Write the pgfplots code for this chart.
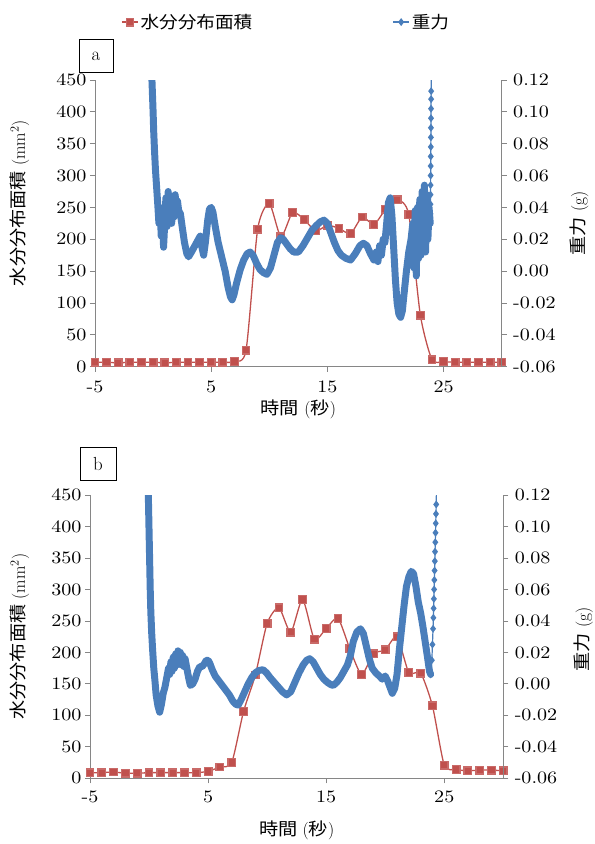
\documentclass[border=0pt]{standalone}
\usepackage{fontspec}
\usepackage{pgfplots}
\pgfplotsset{compat=1.18}
\newfontfamily\cjk[FakeStretch=1.1]{Noto Sans CJK JP}
\newfontfamily\numfont[FakeStretch=1.15, Extension=.otf, UprightFont=*-regular]{lmroman10}
\definecolor{exred}{RGB}{192,80,77}
\definecolor{exblue}{RGB}{74,126,187}
\definecolor{axgray}{RGB}{134,134,134}

\pgfplotsset{
  base/.style={scale only axis, xmin=-5, xmax=30, xtick={-5,5,15,25},
    tick align=outside, major tick length=5bp,
    axis line style={axgray, line width=0.8pt}, tick style={axgray, line width=0.8pt},
    /pgf/number format/assume math mode=true,
    tick label style={font=\fontsize{17.5}{17.5}\selectfont\numfont, black},
    xticklabel={\pgfmathprintnumber{\tick}},
    yticklabel={\pgfmathprintnumber{\tick}},
    label style={font=\fontsize{17.5}{17.5}\selectfont},
    legend image code/.code={
      \draw[mark repeat=2, mark phase=2, #1] plot coordinates {(0bp,0bp) (8bp,0bp) (16bp,0bp)};},
  },
  leftax/.style={base, ymin=0, ymax=450, ytick={0,50,...,450},
    axis x line*=bottom, axis y line*=left,
    xlabel={{\cjk 時間} ({\cjk 秒})},
    ylabel={{\cjk 水分分布面積} (mm\textsuperscript{2})}},
  rightax/.style={base, ymin=-0.06, ymax=0.12,
    ytick={-0.06,-0.04,-0.02,0,0.02,0.04,0.06,0.08,0.1,0.12},
    axis x line=none, axis y line*=right,
    y tick label style={/pgf/number format/fixed, /pgf/number format/fixed zerofill,
      /pgf/number format/precision=2, xshift=3bp},
    ylabel={{\cjk 重力} (g)}},
  redline/.style={exred, line width=1.3pt, mark=square*, mark size=3.8pt, smooth, tension=0.4,
    mark options={solid, fill=exred, draw=exred!85}},
  blueband/.style={exblue, line width=7pt, line join=round, line cap=round, no marks},
  bluespike/.style={exblue, line width=1.2pt, mark=diamond*, mark size=3pt,
    mark options={fill=exblue, draw=exblue}},
}

\begin{document}
\begin{tikzpicture}
\path[use as bounding box] (0,0) rectangle (595bp,-844bp);

% ---------- panel a ----------
\begin{axis}[leftax, at={(95bp,-366.7bp)}, anchor=south west, width=406.7bp, height=286.7bp,
  x tick label style={yshift=-6bp},
  xlabel style={at={(axis description cs:0.5,-0.15)}, anchor=center},
  ylabel style={at={(axis description cs:-0.185,0.571)}, anchor=center},
  after end axis/.append code={
    \node[draw=black, line width=0.6pt, minimum width=34bp, minimum height=33bp,
      font=\fontsize{19}{19}\selectfont] at (axis description cs:0.0025,1.0837) {a};}]
\addplot[redline] coordinates {
(-5,7) (-4,7) (-3,6) (-2,7) (-1,7) (0,7) (1,6) (2,7) (3,7) (4,7) (5,7) (6,7) (7,8)
(8,26) (9,216) (10,256) (11,204) (12,242) (13,231) (14,213) (15,222) (16,217) (17,209)
(18,235) (19,223) (20,247) (21,262) (22,239) (23,81) (24,11) (25,8) (26,7) (27,7)
(28,7) (29,7) (30,7)};
\end{axis}

\begin{axis}[rightax, at={(95bp,-366.7bp)}, anchor=south west, width=406.7bp, height=286.7bp,
  ylabel style={at={(axis description cs:1.19,0.5)}, anchor=center, rotate=0},
  legend style={at={(0.47,1.202)}, anchor=center, draw=none, fill=none, legend columns=2,
    font={\fontsize{17}{19}\selectfont\cjk}, legend cell align=left}]
\addlegendimage{redline}
\addlegendentry{\makebox[250bp][l]{水分分布面積}}
\addplot[blueband, forget plot] coordinates {
(-0.1,0.120) (-0.05,0.110) (0.0,0.100) (0.05,0.088) (0.12,0.076) (0.2,0.064) (0.3,0.053)
(0.4,0.042) (0.45,0.036) (0.5,0.030) (0.6,0.040) (0.7,0.022) (0.8,0.036) (0.9,0.015)
(1.0,0.030) (1.1,0.046) (1.2,0.028) (1.3,0.050) (1.4,0.034) (1.5,0.045) (1.6,0.030)
(1.7,0.047) (1.8,0.034) (1.9,0.048) (2.0,0.036) (2.1,0.044) (2.2,0.038) (2.35,0.036)
(2.5,0.028) (2.7,0.018) (2.9,0.011) (3.05,0.009) (3.3,0.012) (3.6,0.016) (3.9,0.020)
(4.05,0.022) (4.2,0.015) (4.35,0.010) (4.5,0.018) (4.7,0.032) (4.85,0.039) (5.0,0.040)
(5.15,0.037) (5.35,0.028) (5.6,0.018) (5.9,0.009) (6.2,0.000) (6.45,-0.010) (6.65,-0.016)
(6.8,-0.018) (6.95,-0.015) (7.2,-0.007) (7.5,0.001) (7.8,0.007) (8.1,0.011) (8.35,0.012)
(8.6,0.010) (8.9,0.005) (9.2,0.001) (9.5,-0.001) (9.8,-0.002) (10.1,0.002) (10.4,0.010)
(10.7,0.018) (11.0,0.021) (11.2,0.020) (11.5,0.017) (11.8,0.014) (12.1,0.012) (12.5,0.012)
(12.9,0.016) (13.3,0.021) (13.7,0.026) (14.1,0.029) (14.4,0.031) (14.7,0.032) (15.0,0.030)
(15.3,0.024) (15.6,0.018) (15.9,0.013) (16.2,0.010) (16.6,0.008) (17.0,0.007) (17.4,0.011)
(17.8,0.016) (18.1,0.0175) (18.4,0.016) (18.7,0.011) (19.0,0.007) (19.2,0.012) (19.35,0.006)
(19.5,0.016) (19.65,0.010) (19.8,0.020) (19.95,0.018) (20.1,0.030) (20.25,0.043) (20.4,0.046)
(20.55,0.035) (20.7,0.015) (20.85,-0.005) (21.0,-0.020) (21.15,-0.027) (21.3,-0.029)
(21.45,-0.025) (21.6,-0.014) (21.8,0.000) (22.0,0.012) (22.2,0.020) (22.35,0.030)
(22.45,0.002) (22.55,0.038) (22.65,-0.003) (22.75,0.040) (22.85,0.008) (22.95,0.045)
(23.05,0.010) (23.15,0.050) (23.25,0.015) (23.35,0.054) (23.45,0.012) (23.55,0.048)
(23.65,0.020) (23.75,0.040) (23.85,0.030)};
\addplot[bluespike] coordinates {
(23.85,0.030) (23.86,0.036) (23.87,0.042) (23.875,0.048) (23.88,0.054) (23.885,0.060)
(23.89,0.066) (23.895,0.072) (23.9,0.078) (23.905,0.084) (23.91,0.090) (23.915,0.096)
(23.92,0.102) (23.925,0.108) (23.93,0.113) (23.95,0.130)};
\addlegendentry{重力}
\end{axis}

% ---------- panel b ----------
\begin{axis}[leftax, at={(90bp,-778.3bp)}, anchor=south west, width=413.3bp, height=283.3bp,
  x tick label style={yshift=-4bp},
  xlabel style={at={(axis description cs:0.5,-0.1835)}, anchor=center},
  ylabel style={at={(axis description cs:-0.17,0.5)}, anchor=center},
  after end axis/.append code={
    \node[draw=black, line width=0.6pt, minimum width=36bp, minimum height=33bp,
      font=\fontsize{19}{19}\selectfont] at (axis description cs:0.019,1.111) {b};}]
\addplot[redline] coordinates {
(-5,9) (-4,9) (-3,10) (-2,8) (-1,8) (0,9) (1,9) (2,9) (3,9) (4,9) (5,11) (6,18) (7,25)
(8,106) (9,164) (10,246) (11,271) (12,232) (13,284) (14,221) (15,238) (16,254) (17,206)
(18,165) (19,198) (20,204) (21,225) (22,168) (23,167) (24,115) (25,21) (26,14) (27,12)
(28,13) (29,13) (30,12)};
\end{axis}

\begin{axis}[rightax, at={(90bp,-778.3bp)}, anchor=south west, width=413.3bp, height=283.3bp,
  ylabel style={at={(axis description cs:1.194,0.49)}, anchor=center, rotate=0}]
\addplot[blueband] coordinates {
(-0.06,0.120) (-0.02,0.105) (0.02,0.090) (0.06,0.075) (0.1,0.060) (0.15,0.046) (0.22,0.033)
(0.3,0.022) (0.4,0.010) (0.5,0.002) (0.6,-0.007) (0.75,-0.014) (0.9,-0.018) (1.05,-0.013)
(1.2,-0.006) (1.35,-0.002) (1.5,0.004) (1.65,0.010) (1.75,0.006) (1.85,0.014) (1.95,0.008)
(2.05,0.017) (2.15,0.010) (2.25,0.019) (2.35,0.012) (2.45,0.021) (2.55,0.013) (2.65,0.020)
(2.75,0.012) (2.85,0.018) (2.95,0.011) (3.05,0.016) (3.2,0.010) (3.35,0.004) (3.5,-0.001)
(3.7,0.000) (3.9,0.003) (4.1,0.008) (4.3,0.011) (4.5,0.011) (4.7,0.013) (4.85,0.015)
(5.0,0.015) (5.15,0.013) (5.35,0.009) (5.6,0.005) (5.9,0.002) (6.2,-0.001) (6.5,-0.004)
(6.8,-0.007) (7.1,-0.011) (7.35,-0.013) (7.55,-0.0135) (7.8,-0.010) (8.1,-0.005) (8.4,0.000)
(8.7,0.004) (9.0,0.007) (9.3,0.0085) (9.65,0.009) (9.95,0.007) (10.25,0.004) (10.6,0.001)
(10.95,-0.002) (11.3,-0.005) (11.65,-0.007) (12.0,-0.005) (12.35,0.001) (12.7,0.007)
(13.05,0.012) (13.35,0.015) (13.6,0.016) (13.9,0.014) (14.2,0.010) (14.5,0.006) (14.8,0.003)
(15.1,0.001) (15.4,-0.0005) (15.6,-0.001) (15.9,0.001) (16.2,0.004) (16.5,0.008) (16.8,0.012)
(17.05,0.018) (17.3,0.027) (17.6,0.033) (17.9,0.035) (18.15,0.032) (18.4,0.024) (18.65,0.016)
(18.9,0.010) (19.2,0.007) (19.5,0.005) (19.75,0.003) (20.0,0.005) (20.2,0.002) (20.4,-0.002)
(20.6,-0.006) (20.8,-0.003) (21.0,0.006) (21.2,0.022) (21.4,0.036) (21.6,0.050) (21.8,0.062)
(22.0,0.068) (22.2,0.0715) (22.4,0.070) (22.6,0.062) (22.8,0.052) (23.0,0.045) (23.2,0.036)
(23.4,0.026) (23.6,0.016) (23.75,0.008) (23.85,0.006)};
\addplot[bluespike] coordinates {
(23.85,0.006) (23.95,0.015) (24.0,0.025) (24.05,0.035) (24.08,0.042) (24.1,0.048)
(24.12,0.054) (24.14,0.060) (24.16,0.066) (24.18,0.072) (24.2,0.078) (24.22,0.084)
(24.24,0.090) (24.26,0.096) (24.28,0.102) (24.3,0.108) (24.32,0.114) (24.35,0.130)};
\end{axis}
\end{tikzpicture}
\end{document}
